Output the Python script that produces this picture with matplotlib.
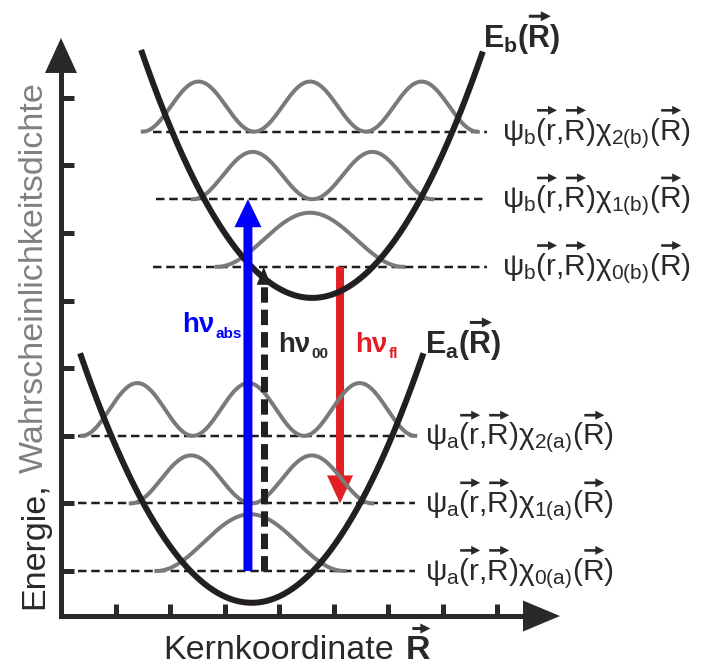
import numpy as np
import matplotlib
matplotlib.use("Agg")
import matplotlib.pyplot as plt
from matplotlib.patches import FancyArrow

plt.rcParams["font.family"] = ["Liberation Sans", "DejaVu Sans"]
plt.rcParams["mathtext.fontset"] = "custom"
plt.rcParams["mathtext.rm"] = "Liberation Sans"
plt.rcParams["mathtext.it"] = "Liberation Sans"
plt.rcParams["mathtext.bf"] = "Liberation Sans:bold"
plt.rcParams["mathtext.fallback"] = "stixsans"

# ---- potential energy curves (minimum position, minimum energy, R range) ----
curvature = 0.372
ground_min = (3.50, 0.53)
ground_range = (0.35, 6.65)
excited_min = (4.61, 5.04)
excited_range = (1.47, 7.74)

# ---- vibrational levels ----
ground_levels = [1.0, 2.0, 3.0]
excited_levels = [5.5, 6.5, 7.5]
ground_wave_spans = [(1.75, 5.20), (1.28, 5.71), (0.38, 6.50)]
excited_wave_spans = [(2.86, 6.28), (2.42, 6.81), (1.50, 7.64)]
ground_wave_amp = [0.84, 0.71, 0.78]
excited_wave_amp = [0.80, 0.70, 0.74]
ground_line_spans = [(0.32, 6.50), (0.32, 6.50), (0.32, 6.50)]
excited_line_spans = [(1.68, 7.82), (1.74, 7.82), (1.68, 7.82)]
ground_state = "a"
excited_state = "b"

# ---- transitions: (R position, start energy, end energy) ----
absorption = (3.43, 1.0, 6.5)
zero_zero = (3.72, 1.0, 5.5)
fluorescence = (5.12, 5.5, 2.0)

# ---- axes ----
R_ticks = [1, 2, 3, 4, 5, 6, 7, 8]
E_ticks = [1, 2, 3, 4, 5, 6, 7, 8]
axis_E0 = 0.334
axis_R_tip = 9.156
axis_E_tip = 8.885

DARK = "#2a2928"
GRAY = "#7a7a7a"
BLUE = "#0000ff"
RED = "#e31f26"

px_R = 54.5   # pixels per R unit
px_E = 67.6   # pixels per E unit

fig = plt.figure(figsize=(7.02, 6.66), dpi=100)
ax = fig.add_axes([0, 0, 1, 1])
ax.set_xlim(-61 / px_R, 641 / px_R)
ax.set_ylim(-27.4 / px_E, 638.6 / px_E)
ax.axis("off")
renderer = fig.canvas.get_renderer()

PX = 0.72  # points per pixel

# coordinate axes with arrow heads
ax.plot([0, axis_R_tip - 30 / px_R], [axis_E0, axis_E0], color=DARK, lw=5 * PX,
        solid_capstyle="projecting", zorder=5)
ax.plot([0, 0], [axis_E0, axis_E_tip - 30 / px_E], color=DARK, lw=5 * PX,
        solid_capstyle="projecting", zorder=5)
ax.add_patch(FancyArrow(axis_R_tip - 40 / px_R, axis_E0, 40 / px_R, 0, width=0,
                        head_width=31 / px_E, head_length=37 / px_R,
                        length_includes_head=True, color=DARK, lw=0, zorder=5))
ax.add_patch(FancyArrow(0, axis_E_tip - 40 / px_E, 0, 40 / px_E, width=0,
                        head_width=32 / px_R, head_length=35 / px_E,
                        length_includes_head=True, color=DARK, lw=0, zorder=5))
for r in R_ticks:
    ax.plot([r, r], [axis_E0, axis_E0 + 12 / px_E], color=DARK, lw=5 * PX,
            solid_capstyle="butt", zorder=5)
for e in E_ticks:
    ax.plot([0, 13 / px_R], [e, e], color=DARK, lw=5 * PX,
            solid_capstyle="butt", zorder=5)

# dashed level lines
for lev, (r0, r1) in zip(ground_levels + excited_levels,
                         ground_line_spans + excited_line_spans):
    ax.plot([r0, r1], [lev, lev], color="#1e1e1e", lw=2.5 * PX,
            dashes=(3.4, 1.9), zorder=1)

# vibrational probability densities
def density(lev, span, amp, n):
    r = np.linspace(span[0], span[1], 400)
    return r, lev + amp * np.sin(np.pi * (n + 1) * (r - span[0]) / (span[1] - span[0])) ** 2

for n, (lev, span, amp) in enumerate(zip(ground_levels, ground_wave_spans, ground_wave_amp)):
    r, y = density(lev, span, amp, n)
    ax.plot(r, y, color=GRAY, lw=4 * PX, zorder=2)
for n, (lev, span, amp) in enumerate(zip(excited_levels, excited_wave_spans, excited_wave_amp)):
    r, y = density(lev, span, amp, n)
    ax.plot(r, y, color=GRAY, lw=4 * PX, zorder=2)

# potential curves
for (rm, em), (ra, rb) in [(ground_min, ground_range), (excited_min, excited_range)]:
    r = np.linspace(ra, rb, 400)
    ax.plot(r, em + curvature * (r - rm) ** 2, color="#231f20", lw=6 * PX,
            solid_capstyle="butt", zorder=3)

# absorption arrow
ra, e0, e1 = absorption
ax.add_patch(FancyArrow(ra, e0, 0, e1 - e0, width=9 / px_R, head_width=27 / px_R,
                        head_length=28 / px_E, length_includes_head=True,
                        color=BLUE, lw=0, zorder=4))
# fluorescence arrow
rf, e0, e1 = fluorescence
ax.add_patch(FancyArrow(rf, e0, 0, e1 - e0, width=8 / px_R, head_width=26 / px_R,
                        head_length=28 / px_E, length_includes_head=True,
                        color=RED, lw=0, zorder=1.5))
# 0-0 transition (dashed arrow)
rz, e0, e1 = zero_zero
head = 18 / px_E
ax.plot([rz, rz], [e0, e1 - head], color="#231f20", lw=7 * PX,
        dashes=(2.2, 1.0), solid_capstyle="butt", zorder=4)
ax.add_patch(FancyArrow(rz, e1 - head, 0, head, width=0, head_width=14 / px_R,
                        head_length=head, length_includes_head=True,
                        color="#231f20", lw=0, zorder=4))


def vector_arrow(x_disp, y_disp, length, shaft, head_w, head_l, color):
    """Small vector arrow ending at display point (x_disp, y_disp)."""
    inv = ax.transData.inverted()
    xd0, yd = inv.transform((x_disp - length, y_disp))
    ax.add_patch(FancyArrow(xd0, yd, length / px_R, 0, width=shaft / px_E,
                            head_width=head_w / px_E, head_length=head_l / px_R,
                            length_includes_head=True, color=color, lw=0, zorder=6))


def vec_text(x, y, pieces, size, color, arrow_len=20, shaft=2.6, head=9, lift=8):
    """Math text whose flagged pieces carry an arrow above them."""
    full = "$" + "".join(p for p, _ in pieces) + "$"
    t = ax.text(x, y, full, fontsize=size, color=color, ha="left", va="baseline", zorder=6)
    prop = t.get_fontproperties()
    x0, y0 = ax.transData.transform((x, y))
    rise = 0.716 * size / 72 * fig.dpi + lift
    for i, (p, arrow) in enumerate(pieces):
        if arrow:
            prefix = "$" + "".join(q for q, _ in pieces[:i + 1]) + "$"
            w, _, _ = renderer.get_text_width_height_descent(prefix, prop, ismath=True)
            vector_arrow(x0 + w, y0 + rise, arrow_len, shaft, head, head, color)
    return t


def level_pieces(state, v):
    return [(rf"\psi_{state}(", False), ("r", True), ("{,}", False), ("R", True),
            (rf")\chi_{{{v}({state})}}(", False), ("R", True), (")", False)]


def label_with_sub(x, y, main, sub, color, size=20, subsize=11, drop=6):
    t = ax.text(x, y, main, fontsize=size, fontweight="bold", color=color,
                ha="left", va="baseline", zorder=6)
    w, _, _ = renderer.get_text_width_height_descent(main, t.get_fontproperties(), ismath=False)
    ax.annotate(sub, xy=(x, y), xytext=(w + 1.5, -drop), textcoords="offset pixels",
                fontsize=subsize, fontweight="bold", color=color,
                ha="left", va="baseline", zorder=6)


# transition labels
label_with_sub(2.22, 4.54, "hν", "abs", BLUE)
label_with_sub(3.98, 4.24, "hν", "00", DARK)
label_with_sub(5.39, 4.24, "hν", "fl", RED)

# potential labels
for (rx, ey), st in [((7.74, 8.75), excited_state), ((6.68, 4.22), ground_state)]:
    vec_text(rx, ey, [(rf"\mathbf{{E}}_\mathbf{{{st}}}\mathbf{{(}}", False),
                      (r"\mathbf{R}", True), (r"\mathbf{)}", False)],
             22, DARK, arrow_len=22, shaft=3, head=10, lift=9)

# level labels
for v, lev in enumerate(ground_levels):
    vec_text(6.68, lev - 0.13, level_pieces(ground_state, v), 21.5, DARK)
for v, lev in enumerate(excited_levels):
    vec_text(8.09, lev - 0.12, level_pieces(excited_state, v), 21.5, DARK)

# axis titles
xl = ax.text(1.87, -0.30, "Kernkoordinate", color=DARK, fontsize=24.5,
             ha="left", va="baseline")
wk, _, _ = renderer.get_text_width_height_descent("Kernkoordinate", xl.get_fontproperties(), ismath=False)
space = 0.32 * 24.5 / 72 * fig.dpi
vec_text(1.87 + (wk + space) / px_R, -0.30, [(r"\mathbf{R}", True)], 24.5, DARK,
         arrow_len=18, shaft=3, head=10, lift=6)

y0 = 0.44
t1 = ax.text(-0.33, y0, "Energie,", color=DARK, fontsize=24.5, rotation=90,
             rotation_mode="anchor", ha="left", va="baseline")
w1, _, _ = renderer.get_text_width_height_descent("Energie,", t1.get_fontproperties(), ismath=False)
gap = 0.28 * 24.5 / 72 * fig.dpi
ax.text(-0.33, y0 + (w1 + gap) / px_E, "Wahrscheinlichkeitsdichte", color="#808080",
        fontsize=24.5, rotation=90, rotation_mode="anchor", ha="left", va="baseline")

fig.savefig("out.png", dpi=100)
